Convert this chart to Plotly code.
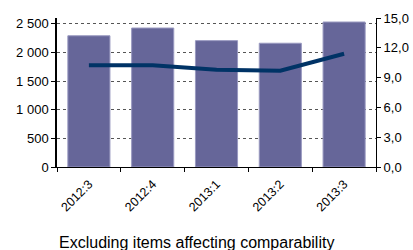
import plotly.graph_objects as go

categories = ["2012:3", "2012:4", "2013:1", "2013:2", "2013:3"]
bar_values = [2290, 2425, 2205, 2160, 2530]
line_values = [10.25, 10.25, 9.8, 9.7, 11.4]

left_ticks = [0, 500, 1000, 1500, 2000, 2500]
left_tick_text = ["0", "500", "1 000", "1 500", "2 000", "2 500"]
right_ticks = [0, 3, 6, 9, 12, 15]
right_tick_text = ["0,0", "3,0", "6,0", "9,0", "12,0", "15,0"]
title_text = "Excluding items affecting comparability"

font = "Liberation Sans, Arial, sans-serif"

fig = go.Figure()
fig.add_trace(go.Bar(
    x=categories, y=bar_values,
    marker=dict(color="#666699", line=dict(color="#9999c0", width=1)),
    width=0.66, yaxis="y",
))
fig.add_trace(go.Scatter(
    x=categories, y=line_values, mode="lines",
    line=dict(color="#003366", width=4), yaxis="y2",
))

fig.update_layout(
    width=413, height=250,
    margin=dict(l=57, r=37, t=18, b=83, autoexpand=False),
    paper_bgcolor="white", plot_bgcolor="white",
    showlegend=False,
    font=dict(family=font, size=13, color="#000000"),
    xaxis=dict(
        type="category", tickangle=-45, tickson="boundaries",
        ticks="outside", ticklen=4, tickcolor="#000000",
        showline=True, linecolor="#000000", linewidth=1,
        showgrid=False, tickfont=dict(size=12.5), automargin=False,
        ticklabelstandoff=4,
    ),
    yaxis=dict(
        range=[0, 2600], tickvals=left_ticks, ticktext=left_tick_text,
        ticks="outside", ticklen=4, tickcolor="#000000",
        showline=True, linecolor="#000000", linewidth=1.5,
        showgrid=True, gridcolor="#555555", griddash="dot", gridwidth=1,
        zeroline=False, tickfont=dict(size=13), automargin=False,
    ),
    yaxis2=dict(
        range=[0, 15], tickvals=right_ticks, ticktext=right_tick_text,
        overlaying="y", side="right",
        ticks="outside", ticklen=4, tickcolor="#000000",
        showline=True, linecolor="#000000", linewidth=1,
        showgrid=False, zeroline=False, tickfont=dict(size=13), automargin=False,
    ),
    annotations=[dict(
        text=title_text, xref="paper", yref="paper",
        x=0, y=-0.505, xanchor="left", yanchor="middle",
        showarrow=False, font=dict(size=16, family=font, color="#000000"),
    )],
)

fig.write_html(
    "out.html",
    config={"displayModeBar": False},
    post_script="document.body.style.margin='0';document.body.style.padding='0';",
)
